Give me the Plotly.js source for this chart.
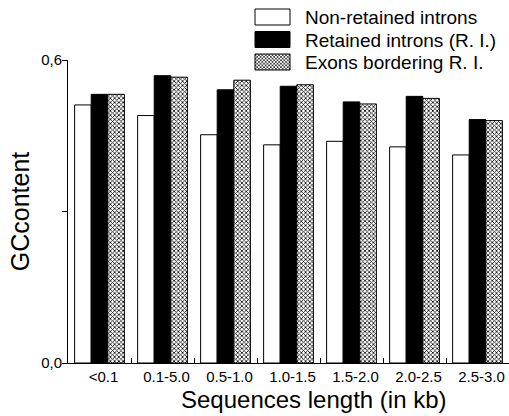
<!DOCTYPE html>
<html>
<head>
<meta charset="utf-8">
<script src="https://cdn.plot.ly/plotly-3.0.1.min.js"></script>
<style>html,body{margin:0;padding:0;background:#fff}#chart{width:509px;height:416px}</style>
</head>
<body>
<div id="chart"></div>
<script>
const categories = ['<0.1', '0.1-5.0', '0.5-1.0', '1.0-1.5', '1.5-2.0', '2.0-2.5', '2.5-3.0'];
const nonRetained = [0.511, 0.490, 0.452, 0.432, 0.439, 0.428, 0.412];
const retained = [0.532, 0.569, 0.541, 0.548, 0.517, 0.528, 0.482];
const exonsBordering = [0.532, 0.566, 0.560, 0.551, 0.513, 0.524, 0.480];
const seriesNames = ['Non-retained introns', 'Retained introns (R. I.)', 'Exons bordering R. I.'];
const yTickVals = [0, 0.3, 0.6];
const yTickText = ['0,0', '', '0,6'];
const xTitle = 'Sequences length (in kb)';
const yTitle = 'GCcontent';

const FONT = 'Liberation Sans, Arial, sans-serif';

const traces = [
  {
    type: 'bar', x: categories, y: nonRetained, name: seriesNames[0],
    marker: {color: '#ffffff', line: {color: '#000', width: 1}}
  },
  {
    type: 'bar', x: categories, y: retained, name: seriesNames[1],
    marker: {color: '#000000', line: {color: '#000', width: 1}}
  },
  {
    type: 'bar', x: categories, y: exonsBordering, name: seriesNames[2],
    marker: {color: '#ffffff', line: {color: '#000', width: 1},
      pattern: {shape: 'x', size: 3, solidity: 0.45, fgcolor: '#000', bgcolor: '#fff', fillmode: 'replace'}}
  }
];

const layout = {
  width: 509, height: 416,
  margin: {l: 68, r: 0, t: 60, b: 53, pad: 0},
  paper_bgcolor: '#fff', plot_bgcolor: '#fff',
  font: {family: FONT, color: '#000'},
  barmode: 'group', bargap: 0.21, bargroupgap: 0,
  showlegend: true,
  legend: {
    x: (240 - 68) / 441, y: 1 + 58 / 303, xanchor: 'left', yanchor: 'top',
    font: {size: 19, family: FONT}, bgcolor: 'rgba(0,0,0,0)', borderwidth: 0,
    itemwidth: 55, tracegroupgap: 0, traceorder: 'normal'
  },
  xaxis: {
    type: 'category', range: [-0.5, 6.5], tickson: 'boundaries',
    ticks: 'inside', ticklen: 5, tickcolor: '#000', tickwidth: 1, tickangle: 0,
    ticklabelshift: 4,
    showline: true, linecolor: '#000', linewidth: 1, showgrid: false, zeroline: false,
    tickfont: {size: 15, family: FONT},
    automargin: false, fixedrange: true
  },
  yaxis: {
    range: [0, 0.6], tickvals: yTickVals, ticktext: yTickText,
    ticks: 'outside', ticklen: 5, tickcolor: '#000', tickwidth: 1,
    ticklabelstandoff: -3,
    showline: true, linecolor: '#000', linewidth: 1, showgrid: false, zeroline: false,
    tickfont: {size: 15, family: FONT},
    title: {text: yTitle, font: {size: 25, family: FONT}, standoff: 4},
    automargin: false, fixedrange: true
  },
  annotations: [{
    text: xTitle, xref: 'paper', yref: 'paper',
    x: (314 - 68) / 441, y: -(399 - 363) / 303, xanchor: 'center', yanchor: 'middle',
    showarrow: false, font: {size: 24, family: FONT, color: '#000'}
  }]
};

Plotly.newPlot('chart', traces, layout, {displayModeBar: false, staticPlot: true}).then(function (gd) {
  // wide rectangular legend swatches, rows packed like the original figure
  const rowCenters = [17, 39.5, 62];
  const items = gd.querySelectorAll('.legend .traces');
  items.forEach(function (item) {
    const p = item.querySelector('.legendpoints path');
    if (p) p.setAttribute('d', 'M17.5,8H-17.5V-8H17.5Z');
  });
  items.forEach(function (item, i) {
    const p = item.querySelector('.legendpoints path');
    if (!p) return;
    const r = p.getBoundingClientRect();
    const cur = (r.top + r.bottom) / 2;
    const m = /translate\(\s*([-\d.]+)[ ,]+([-\d.]+)\s*\)/.exec(item.getAttribute('transform') || '');
    const tx = m ? parseFloat(m[1]) : 0;
    const ty = m ? parseFloat(m[2]) : 0;
    item.setAttribute('transform', 'translate(' + tx + ',' + (ty + rowCenters[i] - cur) + ')');
  });
});
</script>
</body>
</html>
